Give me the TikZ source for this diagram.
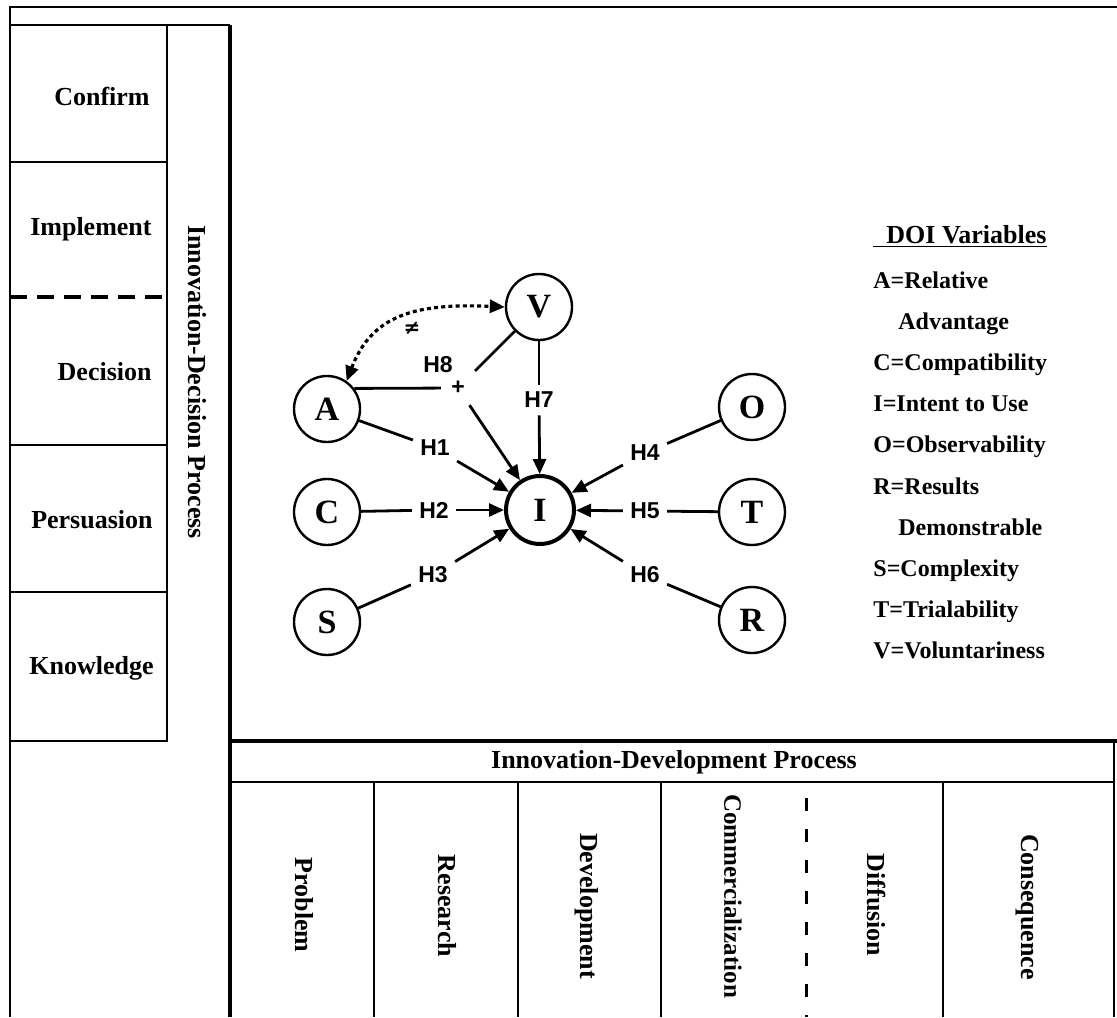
\documentclass[tikz,border=0pt]{standalone}
\usepackage{fontspec}
\setmainfont{Liberation Serif}
\setsansfont{Liberation Sans}
\newfontfamily\symfont{DejaVu Sans}
\usetikzlibrary{arrows.meta}

\tikzset{
  stage/.style={font=\fontsize{13}{15}\selectfont\bfseries},
  legend/.style={font=\fontsize{12}{14}\selectfont\bfseries, anchor=base west, inner sep=0pt},
  var/.style={circle, draw, line width=1.2pt, minimum size=33pt, inner sep=0pt,
    font=\fontsize{17}{20}\selectfont\bfseries},
  hyp/.style={font=\sffamily\fontsize{11.5}{13}\selectfont\bfseries, inner sep=3.5pt},
  link/.style={line width=1.4pt},
  arr/.style={link, -{Triangle[length=7.5pt,width=6.5pt]}},
}

\begin{document}
\begin{tikzpicture}[x=0.5pt,y=-0.5pt]
  \useasboundingbox (0,0) rectangle (1117,1017);
  \clip (0,0) rectangle (1117,1017);

  % Frame
  \draw[line width=1.2pt] (10,1017) -- (10,7) -- (1117,7);

  % Innovation-decision stages
  \draw[line width=1pt] (10,25) rectangle (167,741);
  \draw[line width=1pt] (10,162) -- (167,162);
  \draw[line width=1.6pt, dash pattern=on 8.5pt off 5pt] (10,297) -- (167,297);
  \draw[line width=1pt] (10,445) -- (167,445);
  \draw[line width=1pt] (10,592) -- (167,592);
  \draw[line width=1pt] (167,25) -- (230,25);
  \draw[line width=1.8pt] (230,25) -- (230,1017);

  \node[stage, anchor=east, inner sep=0pt] (confirm) at (150,96) {Confirm};
  \node[stage, anchor=east, inner sep=0pt] (implement) at (152,229) {Implement};
  \node[stage, anchor=east, inner sep=0pt] (decision) at (152,372) {Decision};
  \node[stage, anchor=east, inner sep=0pt] (persuasion) at (153,520) {Persuasion};
  \node[stage, anchor=east, inner sep=0pt] (knowledge) at (154,668) {Knowledge};
  \node[stage, rotate=-90] (idp) at (197,382) {Innovation-Decision Process};

  % Innovation-development stages
  \draw[line width=1.8pt] (230,741) -- (1117,741);
  \draw[line width=1pt] (230,782) -- (1114,782);
  \draw[line width=1pt] (1114,741) -- (1114,1017);
  \draw[line width=1pt] (374,782) -- (374,1017);
  \draw[line width=1pt] (518,782) -- (518,1017);
  \draw[line width=1pt] (661,782) -- (661,1017);
  \draw[line width=1pt] (943,782) -- (943,1017);
  \draw[line width=1.5pt, dash pattern=on 6.5pt off 9pt] (806,798) -- (806,1017);

  \node[stage] (idev) at (674,762) {Innovation-Development Process};
  \node[stage, rotate=-90] (problem) at (304,905) {Problem};
  \node[stage, rotate=-90] (research) at (447,906) {Research};
  \node[stage, rotate=-90] (development) at (587,906) {Development};
  \node[stage, rotate=-90, anchor=west, inner sep=0pt, font=\fontsize{12.5}{15}\selectfont\bfseries]
    (commercial) at (733,794) {Commercialization};
  \node[stage, rotate=-90] (diffusion) at (876,905) {Diffusion};
  \node[stage, rotate=-90] (consequence) at (1027,907) {Consequence};

  % DOI variables
  \node[var] (A) at (327,409) {A};
  \node[var] (C) at (327,512) {C};
  \node[var] (S) at (327,622) {S};
  \node[var] (V) at (539,307) {V};
  \node[var, line width=2pt, minimum size=34pt] (I) at (540,510) {I};
  \node[var] (O) at (752,407) {O};
  \node[var] (T) at (752,512) {T};
  \node[var] (R) at (752,620) {R};

  % Hypotheses
  \node[hyp] (h1) at (435,448) {H1};
  \node[hyp] (h2) at (434,510) {H2};
  \node[hyp] (h3) at (433,575) {H3};
  \node[hyp] (h4) at (645,453) {H4};
  \node[hyp] (h5) at (645,511) {H5};
  \node[hyp] (h6) at (645,575) {H6};
  \node[hyp] (h7) at (539,400) {H7};
  \node[hyp] (h8) at (438,365) {H8};
  \node[hyp, inner sep=5pt] (plus) at (458,388) {+};

  \draw[link] (A) -- (h1);  \draw[arr] (h1) -- (I);
  \draw[link] (C) -- (h2);  \draw[arr] (h2) -- (I);
  \draw[link] (S) -- (h3);  \draw[arr] (h3) -- (I);
  \draw[link] (O) -- (h4);  \draw[arr] (h4) -- (I);
  \draw[link] (T) -- (h5);  \draw[arr] (h5) -- (I);
  \draw[link] (R) -- (h6);  \draw[arr] (h6) -- (I);
  \draw[link] (V) -- (h7);  \draw[arr] (h7) -- (I);
  \draw[link] (A.37) -- (plus);
  \draw[link] (V) -- (plus);
  \draw[arr] (plus) -- (I);

  \draw[line width=1.6pt, dash pattern=on 2pt off 1.6pt,
    {Triangle[length=7.5pt,width=6.5pt]}-{Triangle[length=7.5pt,width=6.5pt]}]
    (A.55) .. controls (372,315) and (415,303) .. (V.west);
  \node[font=\symfont\fontsize{10}{11}\selectfont\bfseries] (neq) at (412,328) {≠};

  % Legend
  \node[legend, font=\fontsize{13}{15}\selectfont\bfseries] (doi) at (873,243) {\underline{\ \ DOI Variables}};
  \node[legend] (la) at (873,288) {A=Relative};
  \node[legend] (la2) at (898,329) {Advantage};
  \node[legend] (lc) at (873,370) {C=Compatibility};
  \node[legend] (li) at (873,411) {I=Intent to Use};
  \node[legend] (lo) at (873,452) {O=Observability};
  \node[legend] (lr) at (873,494) {R=Results};
  \node[legend] (lr2) at (898,535) {Demonstrable};
  \node[legend] (ls) at (873,576) {S=Complexity};
  \node[legend] (lt) at (873,617) {T=Trialability};
  \node[legend] (lv) at (873,658) {V=Voluntariness};
\end{tikzpicture}
\end{document}
